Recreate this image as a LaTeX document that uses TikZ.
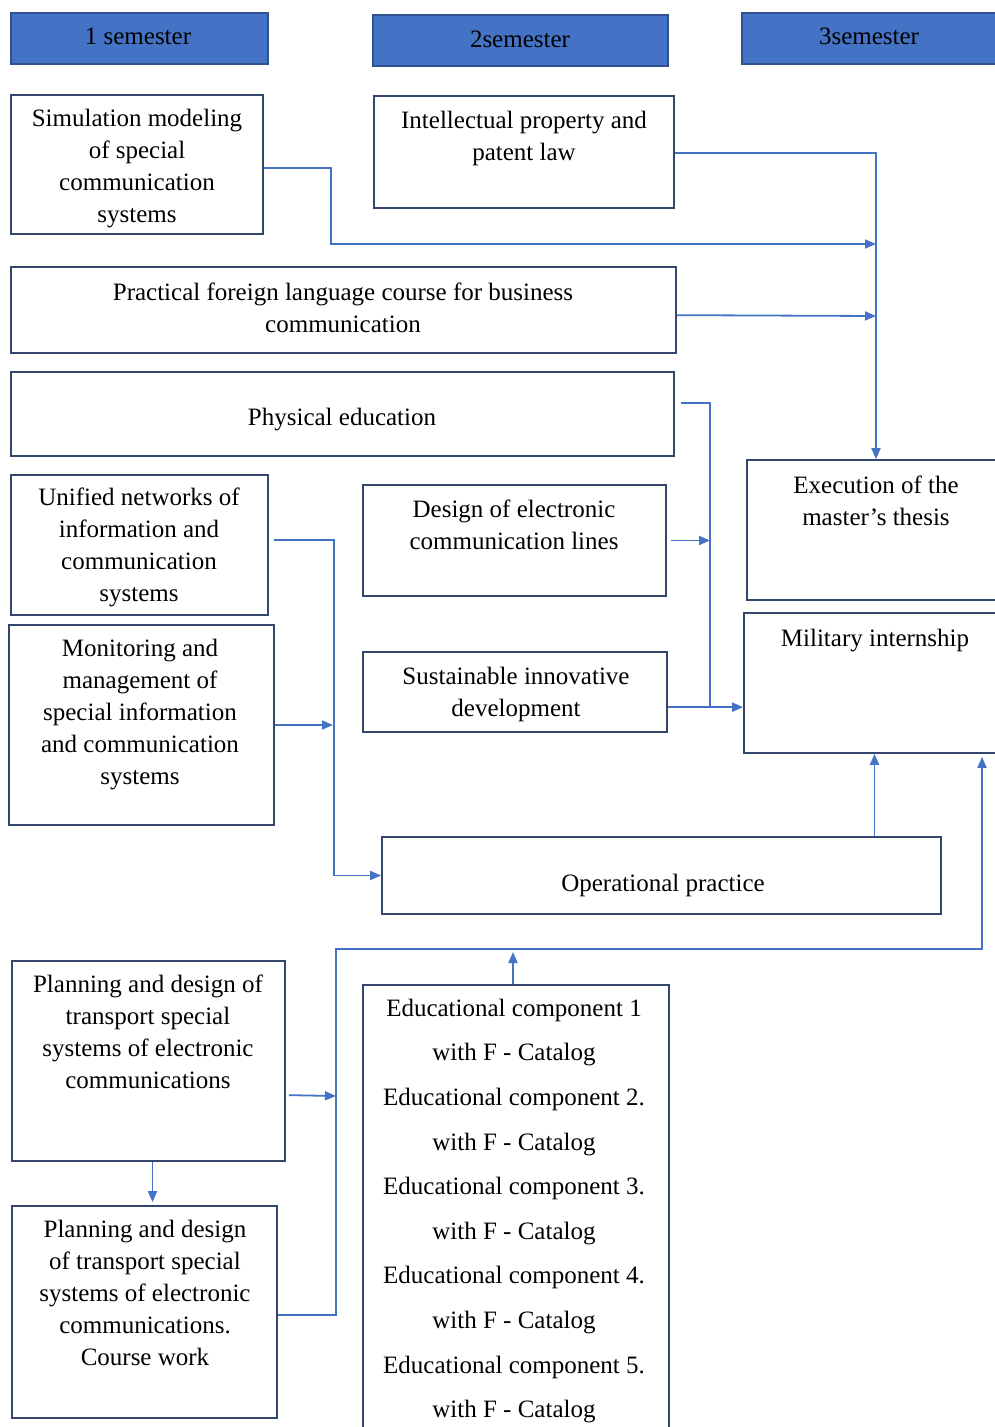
\documentclass[tikz,border=0pt]{standalone}
\usepackage{fontspec}
\setmainfont{Liberation Serif}
\usetikzlibrary{fit,arrows.meta}
\definecolor{hdr}{HTML}{4472C4}
\definecolor{hdrline}{HTML}{2F528F}
\definecolor{boxline}{HTML}{34466E}
\definecolor{conn}{HTML}{4472C4}
\tikzset{
 box/.style={draw=boxline, line width=1.7pt, inner sep=0pt, fill=white},
 hbox/.style={draw=hdrline, line width=1.7pt, inner sep=0pt, fill=hdr},
 lbl/.style={anchor=north, inner sep=0pt, align=center, font=\fontsize{25}{32}\selectfont},
 wire/.style={draw=conn, line width=1.8pt},
 arr/.style={wire, -{Triangle[length=11pt,width=9pt]}},
}
\newcommand{\fl}{\rule{0pt}{20pt}}
\begin{document}
\begin{tikzpicture}[x=1pt,y=-1pt]
\useasboundingbox (0,0) rectangle (995,1427);
\clip (0,0) rectangle (995,1427);
% headers
\node[hbox, fit={(11,13)(268,64)}] (sem1) {};
\node[hbox, fit={(373,15)(668,66)}] (sem2) {};
\node[hbox, fit={(742,13)(1000,64)}] (sem3) {};
\node[lbl] (sem1T) at (138,24) {\fl 1 semester};
\node[lbl] (sem2T) at (520,27) {\fl 2semester};
\node[lbl] (sem3T) at (869,24) {\fl 3semester};
% boxes
\node[box, fit={(11,95)(263,234)}] (sim) {};
\node[box, fit={(374,96)(674,208)}] (ip) {};
\node[box, fit={(11,267)(676,353)}] (prac) {};
\node[box, fit={(11,372)(674,456)}] (phys) {};
\node[box, fit={(747,460)(1005,600)}] (exec) {};
\node[box, fit={(11,475)(268,615)}] (uni) {};
\node[box, fit={(363,485)(666,596)}] (des) {};
\node[box, fit={(9,625)(274,825)}] (mon) {};
\node[box, fit={(363,652)(667,732)}] (sust) {};
\node[box, fit={(744,613)(1005,753)}] (mil) {};
\node[box, fit={(382,837)(941,914)}] (oper) {};
\node[box, fit={(12,961)(285,1161)}] (plan) {};
\node[box, fit={(363,985)(669,1440)}] (edu) {};
\node[box, fit={(12,1206)(277,1418)}] (course) {};
% texts
\node[lbl] (simT) at (137,106) {\fl Simulation modeling\\of special\\communication\\systems};
\node[lbl] (ipT) at (524,108) {\fl Intellectual property and\\patent law};
\node[lbl] (pracT) at (343,280) {\fl Practical foreign language course for business\\communication};
\node[lbl] (physT) at (342,405) {\fl Physical education};
\node[lbl] (execT) at (876,473) {\fl Execution of the\\master’s thesis};
\node[lbl] (uniT) at (139,485) {\fl Unified networks of\\information and\\communication\\systems};
\node[lbl] (desT) at (514,497) {\fl Design of electronic\\communication lines};
\node[lbl] (monT) at (140,636) {\fl Monitoring and\\management of\\special information\\and communication\\systems};
\node[lbl] (sustT) at (516,664) {\fl Sustainable innovative\\development};
\node[lbl] (milT) at (875,626) {\fl Military internship};
\node[lbl] (operT) at (663,871) {\fl Operational practice};
\node[lbl] (planT) at (148,972) {\fl Planning and design of\\transport special\\systems of electronic\\communications};
\node[lbl] (courseT) at (145,1217) {\fl Planning and design\\of transport special\\systems of electronic\\communications.\\Course work};
\node[lbl, font=\fontsize{25}{44.6}\selectfont] (eduT) at (514,996) {\fl Educational component 1\\with F - Catalog\\Educational component 2.\\with F - Catalog\\Educational component 3.\\with F - Catalog\\Educational component 4.\\with F - Catalog\\Educational component 5.\\with F - Catalog};
% junction coordinates
\coordinate (j1) at (876,244);
\coordinate (j2) at (876,316);
\coordinate (jv) at (710,708);
\coordinate (jd) at (710,540.5);
\coordinate (jm) at (333,725);
\coordinate (jc1) at (336,949);
\coordinate (je) at (513,952);
\coordinate (jp) at (336,1096);
% connectors
\draw[arr] ([yshift=-74pt]sim.north east) -- ++(67,0) |- (j1);
\draw[arr] ([yshift=-58pt]ip.north east) -| (exec.north);
\draw[arr] ([yshift=-49pt]prac.north east) -- (j2);
\draw[wire] ([xshift=6pt,yshift=-32pt]phys.north east) -| (jv);
\draw[arr] ([yshift=-56pt]sust.north east) -- ([yshift=-95pt]mil.north west);
\draw[arr] ([xshift=4pt]des.east) -- (jd);
\draw[arr] ([xshift=5pt,yshift=5pt]uni.east) -- ++(60,0) |- (oper.west);
\draw[arr] (mon.east) -- (jm);
\draw[arr] (mil.south |- oper.north) -- (mil.south);
\draw[arr, shorten >=3pt] ([yshift=-110pt]course.north east) -| (jc1) -| ([xshift=107.5pt]mil.south);
\draw[arr] ([xshift=-3pt]edu.north) -- (je);
\draw[arr] ([xshift=3pt,yshift=-135pt]plan.north east) -- (jp);
\draw[arr, shorten >=3pt] ([xshift=4pt]plan.south) -- ([xshift=8pt]course.north);
\end{tikzpicture}
\end{document}
